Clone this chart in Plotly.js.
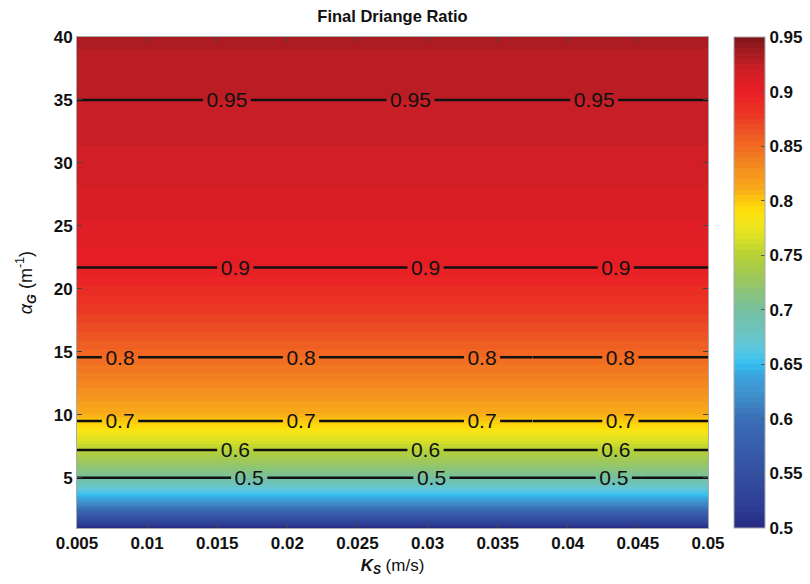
<!DOCTYPE html>
<html>
<head>
<meta charset="utf-8">
<script src="https://cdn.plot.ly/plotly-3.0.1.min.js"></script>
<style>html,body{margin:0;padding:0;background:#fff;}#chart{width:810px;height:584px;}</style>
</head>
<body>
<div id="chart"></div>
<script>
// Surface conductivity K_S (m/s) - x samples / ticks
const ksValues = [0.005, 0.01, 0.015, 0.02, 0.025, 0.03, 0.035, 0.04, 0.045, 0.05];
const ksTickText = ['0.005', '0.01', '0.015', '0.02', '0.025', '0.03', '0.035', '0.04', '0.045', '0.05'];
// alpha_G (1/m) - y samples
const alphaValues = [1, 1.5, 2, 2.5, 3, 3.5, 4, 4.5, 5, 6, 7, 8, 9, 10, 11, 12, 13, 14, 15, 16, 17, 18, 19, 20, 21, 22, 24, 26, 28, 30, 32, 34, 35, 36, 38, 40];
const alphaTickVals = [5, 10, 15, 20, 25, 30, 35, 40];
// Final drainage ratio at each alpha_G (constant across K_S)
const ratioByAlpha = [0.10, 0.17, 0.235, 0.295, 0.345, 0.39, 0.43, 0.466, 0.50, 0.547, 0.591, 0.635, 0.682, 0.718, 0.739, 0.758, 0.775, 0.791, 0.807, 0.822, 0.836, 0.85, 0.863, 0.877, 0.891, 0.904, 0.914, 0.922, 0.93, 0.936, 0.942, 0.947, 0.95, 0.953, 0.958, 0.962];
// labelled contour levels
const contourLevels = [0.5, 0.6, 0.7, 0.8, 0.9, 0.95];
// colour bar tick labels as printed, and the ratio each one sits at
const colorbarTickText = ['0.5', '0.55', '0.6', '0.65', '0.7', '0.75', '0.8', '0.85', '0.9', '0.95'];
const colorbarTickRatio = [0.1, 0.2, 0.3, 0.4, 0.5, 0.6, 0.7, 0.8, 0.9, 1.0];

const zGrid = alphaValues.map((a, i) => ksValues.map(() => ratioByAlpha[i]));

const cmap = [
  [0.000, '#262a80'], [0.044, '#2e3e94'], [0.111, '#334fa0'], [0.178, '#3860ac'],
  [0.222, '#3a6fb6'], [0.267, '#3e8dc8'], [0.311, '#3aa4de'], [0.333, '#34bff0'],
  [0.367, '#5ec8e0'], [0.400, '#6cc4c0'], [0.444, '#76c0a0'], [0.511, '#9ec85a'],
  [0.556, '#b7d235'], [0.589, '#d8e026'], [0.622, '#f5e61a'], [0.644, '#fde00a'],
  [0.667, '#fcc90e'], [0.689, '#f8ab1a'], [0.733, '#f58d1f'], [0.778, '#f06a22'],
  [0.800, '#ee5a24'], [0.844, '#ea3424'], [0.889, '#e81e25'], [0.933, '#cf1f26'],
  [0.956, '#b21d23'], [0.978, '#981a1f'], [1.000, '#7d1316']
];

const FONT = 'Liberation Sans, Arial, sans-serif';

const fill = {
  type: 'contour', x: ksValues, y: alphaValues, z: zGrid,
  colorscale: cmap, zmin: colorbarTickRatio[0], zmax: colorbarTickRatio[colorbarTickRatio.length - 1],
  autocontour: false,
  contours: {coloring: 'fill', start: 0.1, end: 1.0, size: 0.01, showlines: false},
  line: {width: 0},
  hoverinfo: 'skip',
  colorbar: {
    xref: 'container', x: 734 / 810, xanchor: 'left', xpad: 0,
    y: 0.5, yanchor: 'middle', len: 1, ypad: 0,
    thickness: 31, outlinecolor: '#aaa', outlinewidth: 1,
    tickvals: colorbarTickRatio, ticktext: colorbarTickText,
    ticks: 'inside', ticklen: 4, tickcolor: '#555',
    tickfont: {family: FONT, size: 17, color: '#111', weight: 'bold'}
  }
};

// ---- label layout (style only): each contour line is drawn in pieces along K_S;
// a piece with n labels gets its labels at its centre and near its ends.
const X0 = ksValues[0], X1 = ksValues[ksValues.length - 1];
const labelPieces = {
  0.5:  [[0.01527, 0.04529, 3]],
  0.6:  [[0.01477, 0.04494, 3]],
  0.7:  [[0.00657, 0.03538, 3], [0.0375, X1, 1]],
  0.8:  [[0.00657, 0.03538, 3], [0.0375, X1, 1]],
  0.9:  [[0.01477, 0.04494, 3]],
  0.95: [[0.01377, 0.0438, 3]]
};

function lineTrace(level, xa, xb, nLabels) {
  // Plotly spaces labels by the number of levels in a trace; extra levels far above the
  // data range (never drawn) set how many labels the one real line receives.
  const nLevels = nLabels >= 3 ? 100 : 1;
  return {
    type: 'contour', x: [xa, xb], y: alphaValues,
    z: ratioByAlpha.map(r => [r, r]),
    autocontour: false, showscale: false, hoverinfo: 'skip',
    contours: {coloring: 'none', start: level, end: level + (nLevels - 1), size: 1,
               showlabels: nLabels > 0, labelformat: '.2~f',
               labelfont: {family: FONT, size: 21, color: '#111'}},
    line: {color: '#111', width: 2.5}
  };
}

const lineTraces = [];
contourLevels.forEach(level => {
  let cursor = X0;
  labelPieces[level].forEach(([xa, xb, n]) => {
    if (xa > cursor) lineTraces.push(lineTrace(level, cursor, xa, 0));
    lineTraces.push(lineTrace(level, xa, xb, n));
    cursor = xb;
  });
  if (cursor < X1) lineTraces.push(lineTrace(level, cursor, X1, 0));
});

const layout = {
  width: 810, height: 584,
  margin: {l: 77, r: 102, t: 37, b: 56},
  paper_bgcolor: '#fff', plot_bgcolor: '#fff',
  font: {family: FONT, color: '#111'},
  title: {text: '<b>Final Driange Ratio</b>', font: {family: FONT, size: 16.5, color: '#111'},
          x: 0.5, xref: 'paper', xanchor: 'center', y: 0.972, yanchor: 'middle'},
  xaxis: {
    range: [X0, X1], tickvals: ksValues, ticktext: ksTickText,
    ticks: 'inside', ticklen: 5, tickcolor: '#444', showline: true, linecolor: '#aaa', mirror: 'ticks',
    showgrid: false, zeroline: false,
    tickfont: {family: FONT, size: 17, color: '#111', weight: 'bold'},
    title: {text: '<b><i>K</i></b><sub><b><i>S</i></b></sub> (m/s)', font: {family: FONT, size: 17, color: '#111'}, standoff: 6}
  },
  yaxis: {
    range: [1, 40], tickvals: alphaTickVals,
    ticks: 'inside', ticklen: 5, tickcolor: '#444', showline: true, linecolor: '#aaa', mirror: 'ticks',
    showgrid: false, zeroline: false,
    tickfont: {family: FONT, size: 17, color: '#111', weight: 'bold'},
    title: {text: '<i>α</i><sub><b><i>G</i></b></sub> (m<sup>-1</sup>)', font: {family: FONT, size: 18, color: '#111'}, standoff: 16}
  },
  showlegend: false
};

Plotly.newPlot('chart', [fill].concat(lineTraces), layout, {displayModeBar: false, staticPlot: true});
</script>
</body>
</html>
